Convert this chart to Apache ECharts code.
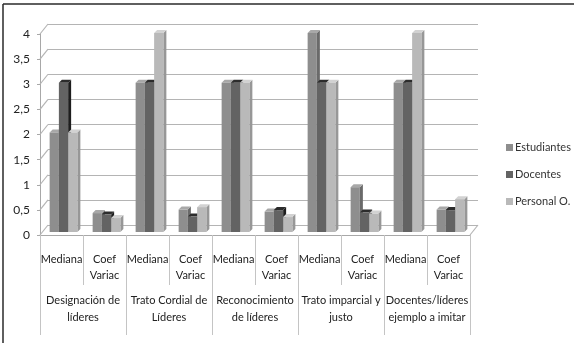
<!DOCTYPE html>
<html>
<head>
<meta charset="utf-8">
<script src="https://cdn.jsdelivr.net/npm/echarts@6/dist/echarts.min.js"></script>
<style>
  html, body { margin: 0; padding: 0; background: #ffffff; }
  #chart { width: 574px; height: 343px; }
</style>
</head>
<body>
<div id="chart"></div>
<script>
// Two-level category axis: statistic per aspect, aspects below
const categories = ['Mediana', 'Coef\nVariac', 'Mediana', 'Coef\nVariac', 'Mediana', 'Coef\nVariac',
                    'Mediana', 'Coef\nVariac', 'Mediana', 'Coef\nVariac'];
const groups = ['Designación de\nlíderes', 'Trato Cordial de\nLíderes', 'Reconocimiento\nde líderes',
                'Trato imparcial y\njusto', 'Docentes/líderes\nejemplo a imitar'];
const seriesNames = ['Estudiantes', 'Docentes', 'Personal O.'];

// Values per category (Mediana, Coef Variac for each aspect)
const estudiantes = [2, 0.38, 3, 0.45, 3, 0.41, 4, 0.90, 3, 0.45];
const docentes    = [3, 0.35, 3, 0.31, 3, 0.44, 3, 0.39, 3, 0.44];
const personal    = [2, 0.28, 4, 0.50, 3, 0.30, 3, 0.37, 4, 0.66];

// Value axis ticks
const yMin = 0, yMax = 4, yStep = 0.5;
const yTicks = [0, 0.5, 1, 1.5, 2, 2.5, 3, 3.5, 4];

const FONT = 'Lato, "Liberation Sans", sans-serif';
const FS = 11;
const DEPTH_X = 8, DEPTH_Y = 10;   // wall depth
const BAR_D = 3;                   // bar thickness shown by side/top faces

const shades = [
  { front: '#8e8e8e', side: '#6a6a6a', top: '#a8a8a8' },
  { front: '#636363', side: '#1e1e1e', top: '#2c2c2c' },
  { front: '#b9b9b9', side: '#979797', top: '#d2d2d2' }
];

function barRenderer(k) {
  return function (params, api) {
    const c = api.value(0), v = api.value(1);
    const base = api.coord([c, 0]);
    const top = api.coord([c, v]);
    const band = api.size([1, 0])[0];
    const w = band * 0.215;
    const x0 = base[0] - 1.5 * w + k * w;
    const x1 = x0 + w;
    const s = shades[k];
    return {
      type: 'group',
      children: [
        { type: 'polygon', shape: { points: [[x1, top[1]], [x1 + BAR_D, top[1] - BAR_D], [x1 + BAR_D, base[1] - BAR_D], [x1, base[1]]] },
          style: { fill: s.side } },
        { type: 'polygon', shape: { points: [[x0, top[1]], [x0 + BAR_D, top[1] - BAR_D], [x1 + BAR_D, top[1] - BAR_D], [x1, top[1]]] },
          style: { fill: s.top } },
        { type: 'rect', shape: { x: x0, y: top[1], width: w, height: base[1] - top[1] },
          style: { fill: s.front } }
      ]
    };
  };
}

const seriesData = [estudiantes, docentes, personal];

const chart = echarts.init(document.getElementById('chart'), null, { renderer: 'canvas' });

const option = {
  animation: false,
  backgroundColor: '#ffffff',
  textStyle: { fontFamily: FONT },
  graphic: [
    { type: 'line', shape: { x1: 3, y1: 4, x2: 574, y2: 4 }, style: { stroke: '#2a2a2a', lineWidth: 1.5 } },
    { type: 'line', shape: { x1: 3, y1: 4, x2: 3, y2: 343 }, style: { stroke: '#2a2a2a', lineWidth: 1.5 } }
  ],
  legend: {
    data: seriesNames,
    orient: 'vertical',
    left: 506, top: 142,
    icon: 'rect', itemWidth: 7, itemHeight: 7, itemGap: 16,
    padding: 0,
    textStyle: { fontFamily: FONT, fontSize: FS, color: '#333333', padding: [0, 0, 0, -3] }
  },
  grid: [
    // front plane: value axis and category labels
    { left: 40, top: 34, width: 430, height: 201 },
    // back wall with gridlines
    { left: 40 + DEPTH_X, top: 34 - DEPTH_Y, width: 430, height: 201 },
    // bars
    { left: 42, top: 33, width: 430, height: 199 },
    // aspect labels
    { left: 40, top: 34, width: 430, height: 201 }
  ],
  xAxis: [
    { gridIndex: 0, type: 'category', data: categories,
      axisLine: { show: true, lineStyle: { color: '#a8a8a8', width: 1 } },
      axisTick: { show: true, interval: 0, length: 50, lineStyle: { color: '#c4c4c4' } },
      axisLabel: { interval: 0, margin: 16, fontFamily: FONT, fontSize: FS, color: '#222222', lineHeight: 16 } },
    { gridIndex: 1, type: 'value', min: 0, max: 1, show: false },
    { gridIndex: 2, type: 'category', data: categories, show: false },
    { gridIndex: 3, type: 'category', data: groups,
      axisLine: { show: false },
      axisTick: { show: true, interval: 0, length: 100, lineStyle: { color: '#c4c4c4' } },
      axisLabel: { interval: 0, margin: 57, fontFamily: FONT, fontSize: FS, color: '#222222', lineHeight: 17 } }
  ],
  yAxis: [
    { gridIndex: 0, type: 'value', min: yMin, max: yMax, interval: yStep,
      axisLine: { show: true, lineStyle: { color: '#a8a8a8' } },
      axisTick: { show: true, length: 3, inside: false, lineStyle: { color: '#a8a8a8' } },
      splitLine: { show: false },
      axisLabel: { margin: 10, fontFamily: FONT, fontSize: FS + 1, color: '#222222',
        formatter: v => String(v).replace('.', ',') } },
    { gridIndex: 1, type: 'value', min: yMin, max: yMax, interval: yStep,
      axisLine: { show: false }, axisTick: { show: false }, axisLabel: { show: false },
      splitLine: { show: true, lineStyle: { color: '#b4b4b4', width: 1.2 } } },
    { gridIndex: 2, type: 'value', min: yMin, max: yMax, show: false },
    { gridIndex: 3, type: 'value', min: yMin, max: yMax, show: false }
  ],
  series: [
    // side wall connectors from the front value axis back to each gridline, plus the floor edge
    { type: 'custom', xAxisIndex: 1, yAxisIndex: 1, silent: true, z: 1,
      data: yTicks.map(v => [0, v]),
      renderItem: function (params, api) {
        const b = api.coord([0, api.value(1)]);
        const children = [
          { type: 'line', shape: { x1: b[0] - DEPTH_X, y1: b[1] + DEPTH_Y, x2: b[0], y2: b[1] },
            style: { stroke: '#b4b4b4', lineWidth: 1.2 } }
        ];
        if (api.value(1) === 0) {
          const r = api.coord([1, 0]);
          children.push({ type: 'line', shape: { x1: r[0] - DEPTH_X, y1: r[1] + DEPTH_Y, x2: r[0], y2: r[1] },
            style: { stroke: '#b4b4b4', lineWidth: 1.2 } });
        }
        return { type: 'group', children: children };
      } }
  ].concat(seriesNames.map((name, k) => ({
    name: name, type: 'custom', xAxisIndex: 2, yAxisIndex: 2, z: 3 + k,
    itemStyle: { color: shades[k].front },
    encode: { x: 0, y: 1 },
    data: seriesData[k].map((v, i) => [i, v]),
    renderItem: barRenderer(k)
  })))
};

chart.setOption(option);
</script>
</body>
</html>
